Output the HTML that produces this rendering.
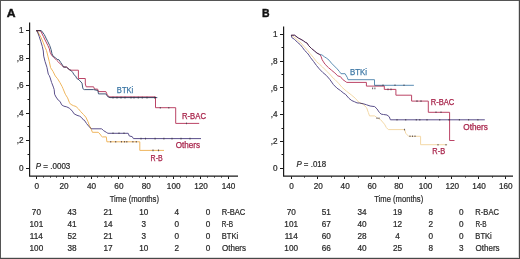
<!DOCTYPE html>
<html><head><meta charset="utf-8"><style>
html,body{margin:0;padding:0;background:#fff;}
body{width:520px;height:259px;overflow:hidden;}
svg{display:block;will-change:transform;}
</style></head><body>
<svg width="520" height="259" viewBox="0 0 520 259" font-family='"Liberation Sans", sans-serif'>
<rect x="0" y="0" width="520" height="259" fill="#fff"/>
<text x="6.75" y="16.90" font-size="11.2" fill="#111" textLength="8.83" lengthAdjust="spacingAndGlyphs" font-weight="bold" stroke="#111" stroke-width="0.4">A</text>
<path d="M29.6,22.4 V176.5 M29,176.1 H238" stroke="#1a1a1a" stroke-width="1.2" fill="none"/>
<path d="M26,168.5 H29 M27.5,154.5 H29 M26,140.5 H29 M27.5,126.5 H29 M26,113.5 H29 M27.5,99.5 H29 M26,85.5 H29 M27.5,71.5 H29 M26,58.5 H29 M27.5,44.5 H29 M26,30.5 H29 M36.5,176.4 V179 M43.5,176.4 V177.6 M50.5,176.4 V177.6 M56.5,176.4 V177.6 M63.5,176.4 V179 M70.5,176.4 V177.6 M77.5,176.4 V177.6 M84.5,176.4 V177.6 M91.5,176.4 V179 M97.5,176.4 V177.6 M104.5,176.4 V177.6 M111.5,176.4 V177.6 M118.5,176.4 V179 M125.5,176.4 V177.6 M132.5,176.4 V177.6 M139.5,176.4 V177.6 M145.5,176.4 V179 M152.5,176.4 V177.6 M159.5,176.4 V177.6 M166.5,176.4 V177.6 M173.5,176.4 V179 M180.5,176.4 V177.6 M186.5,176.4 V177.6 M193.5,176.4 V177.6 M200.5,176.4 V179 M207.5,176.4 V177.6 M214.5,176.4 V177.6 M221.5,176.4 V177.6 M228.5,176.4 V179" stroke="#1a1a1a" stroke-width="1" fill="none"/>
<text x="23.60" y="170.90" font-size="8.2" fill="#2a2a2a" text-anchor="end" stroke="#2a2a2a" stroke-width="0.22">0</text>
<text x="23.60" y="143.34" font-size="8.2" fill="#2a2a2a" text-anchor="end" stroke="#2a2a2a" stroke-width="0.22">,2</text>
<text x="23.60" y="115.78" font-size="8.2" fill="#2a2a2a" text-anchor="end" stroke="#2a2a2a" stroke-width="0.22">,4</text>
<text x="23.60" y="88.22" font-size="8.2" fill="#2a2a2a" text-anchor="end" stroke="#2a2a2a" stroke-width="0.22">,6</text>
<text x="23.60" y="60.66" font-size="8.2" fill="#2a2a2a" text-anchor="end" stroke="#2a2a2a" stroke-width="0.22">,8</text>
<text x="23.60" y="33.10" font-size="8.2" fill="#2a2a2a" text-anchor="end" stroke="#2a2a2a" stroke-width="0.22">1</text>
<text x="36.70" y="189.10" font-size="8.2" fill="#2a2a2a" text-anchor="middle" stroke="#2a2a2a" stroke-width="0.22">0</text>
<text x="64.10" y="189.10" font-size="8.2" fill="#2a2a2a" text-anchor="middle" stroke="#2a2a2a" stroke-width="0.22">20</text>
<text x="91.50" y="189.10" font-size="8.2" fill="#2a2a2a" text-anchor="middle" stroke="#2a2a2a" stroke-width="0.22">40</text>
<text x="118.90" y="189.10" font-size="8.2" fill="#2a2a2a" text-anchor="middle" stroke="#2a2a2a" stroke-width="0.22">60</text>
<text x="146.30" y="189.10" font-size="8.2" fill="#2a2a2a" text-anchor="middle" stroke="#2a2a2a" stroke-width="0.22">80</text>
<text x="173.70" y="189.10" font-size="8.2" fill="#2a2a2a" text-anchor="middle" stroke="#2a2a2a" stroke-width="0.22">100</text>
<text x="201.10" y="189.10" font-size="8.2" fill="#2a2a2a" text-anchor="middle" stroke="#2a2a2a" stroke-width="0.22">120</text>
<text x="228.50" y="189.10" font-size="8.2" fill="#2a2a2a" text-anchor="middle" stroke="#2a2a2a" stroke-width="0.22">140</text>
<path d="M36.3,30.7 H41.4 L44.2,34.4 L46,38.1 L47.9,41.8 L49.7,45.5 L51.1,49.6 L52,53.8 L53.4,56.6 L55.3,57.5 L57.1,59.4 L59,59.8 L60.8,62.6 L62.7,65.4 L63.5,67 L66.5,67.2 L69.3,69.6 L71,70.5 L73,72.8 L73.9,74.7 L75.7,76.1 L76.7,78.4 L79,79.8 L82,83.1 L82.9,88.7 L84.3,89.6 H93.6 L97.8,90.5 L98.5,93.9 H105.9 L107.7,96.7 L110,97.6 H157.3" stroke="#42597a" stroke-width="1.0" fill="none" style="mix-blend-mode:multiply"/>
<path d="M36.3,30.7 H40.5 L43.3,36.3 L45.1,40 L47.9,45.5 L49.3,48.7 L50.2,52.4 L51.6,55.2 L53.9,57.5 L56.7,60.3 L58.5,62.1 L60.4,64 L62.2,65.8 L63.5,67 H66.5 L69.3,69.6 L71,70.2 H78.4 V78.5 H85.3 V84 L86.2,86.8 H93.6 L94.5,89.1 H97.6 L98.5,91.6 H105.9 L107.3,94.8 L109.1,96.9 H155.5 V107.7 H175.7 V123.4 H199.2" stroke="#bb4466" stroke-width="1.0" fill="none" style="mix-blend-mode:multiply"/>
<path d="M36.3,30.7 L37.7,31.6 L40.9,37.2 L43.3,42.7 L45.1,47.4 L46.5,50.6 L47.9,56.1 L49.3,61.7 L50.6,67.7 L53,71.4 L55.3,76 L57.6,78.8 L59.9,82.5 L62.2,86.7 L63,88.6 L65.3,94.2 L67.6,97.9 L69.4,102.5 L70.5,104.2 L73.3,105.6 L76,106.5 L78.4,108.8 L80.7,111.6 L83.4,114.4 L85.8,117.1 L87.8,121.3 L89.5,125.9 L91.3,129.4 L92.4,132.3 H98.2 L100,134 L101.1,135.8 L102.3,136.9 H106.3 L106.9,141.8 H139.8 V150.4 H164" stroke="#efb65e" stroke-width="1.0" fill="none" style="mix-blend-mode:multiply"/>
<path d="M36.3,30.7 L37.2,31.2 L39.1,36.3 L40.9,41.8 L42.3,46.4 L43.3,51 L43.7,56.1 L45.1,61.7 L46.9,67.2 L48.3,74.2 L49.3,75.6 L50.2,77.9 L51.6,82.5 L53.4,87.1 L54.2,89.6 L54.6,94.2 L56,97 L58.3,100.2 L60.2,101.6 L61.6,104.8 L63.9,106.2 L66.8,106.9 L69.6,108.3 L72.3,111.1 L74.2,113.9 L77,115.3 L79.7,116.2 L81.6,117.6 L83.4,119.9 L84.3,120.1 L86.6,123.6 L89,126.5 L91.3,128.8 H101.7 L103.4,130.5 L106.3,132.3 L107.9,133.3 H128.2 L129.3,136 L132.2,136.6 L133.4,138.6 H201" stroke="#5a4f8a" stroke-width="1.0" fill="none" style="mix-blend-mode:multiply"/>
<path d="M113,96.80 v1.6 M117,96.80 v1.6 M121,96.80 v1.6 M125,96.80 v1.6 M131,96.80 v1.6 M134,96.80 v1.6 M138.3,96.80 v1.6 M142.3,96.80 v1.6 M147,96.80 v1.6 M154.5,96.80 v1.6" stroke="#3a3340" stroke-width="1.1" opacity="0.75" fill="none"/>
<path d="M160.3,106.90 v1.6 M168.8,106.90 v1.6" stroke="#3a3340" stroke-width="1.1" opacity="0.75" fill="none"/>
<path d="M186.5,122.60 v1.6" stroke="#3a3340" stroke-width="1.1" opacity="0.75" fill="none"/>
<path d="M113,132.50 v1.6 M119,132.50 v1.6 M124,132.50 v1.6" stroke="#3a3340" stroke-width="1.1" opacity="0.75" fill="none"/>
<path d="M141,137.80 v1.6 M145.5,137.80 v1.6 M155.1,137.80 v1.6 M163.9,137.80 v1.6 M172,137.80 v1.6 M181,137.80 v1.6 M190,137.80 v1.6" stroke="#3a3340" stroke-width="1.1" opacity="0.75" fill="none"/>
<path d="M110.7,141.00 v1.6 M115.7,141.00 v1.6 M121.5,141.00 v1.6 M124.5,141.00 v1.6 M126.8,141.00 v1.6 M132.9,141.00 v1.6 M136.3,141.00 v1.6" stroke="#3a3340" stroke-width="1.1" opacity="0.75" fill="none"/>
<path d="M153,149.60 v1.6 M158.5,149.60 v1.6" stroke="#3a3340" stroke-width="1.1" opacity="0.75" fill="none"/>
<text x="116.83" y="92.50" font-size="8.2" fill="#3e78a6" textLength="16.43" lengthAdjust="spacingAndGlyphs" stroke="#3e78a6" stroke-width="0.25">BTKi</text>
<text x="182.02" y="119.10" font-size="8.2" fill="#a8234a" textLength="23.92" lengthAdjust="spacingAndGlyphs" stroke="#a8234a" stroke-width="0.25">R-BAC</text>
<text x="175.67" y="148.00" font-size="8.2" fill="#a8234a" textLength="24.28" lengthAdjust="spacingAndGlyphs" stroke="#a8234a" stroke-width="0.25">Others</text>
<text x="150.57" y="160.60" font-size="8.2" fill="#a8234a" textLength="12.15" lengthAdjust="spacingAndGlyphs" stroke="#a8234a" stroke-width="0.25">R-B</text>
<text x="35.79" y="169.10" font-size="8.2" fill="#2a2a2a" textLength="34.51" lengthAdjust="spacingAndGlyphs" stroke="#2a2a2a" stroke-width="0.22"><tspan font-style="italic">P</tspan> = .0003</text>
<text x="109.68" y="202.00" font-size="9.2" fill="#2a2a2a" textLength="49.35" lengthAdjust="spacingAndGlyphs" stroke="#2a2a2a" stroke-width="0.22">Time (months)</text>
<text x="261.95" y="16.90" font-size="11.2" fill="#111" textLength="7.58" lengthAdjust="spacingAndGlyphs" font-weight="bold" stroke="#111" stroke-width="0.4">B</text>
<path d="M283.6,26.6 V176.5 M283,176.1 H513" stroke="#1a1a1a" stroke-width="1.2" fill="none"/>
<path d="M280,168.5 H283 M281.5,154.5 H283 M280,141.5 H283 M281.5,128.5 H283 M280,114.5 H283 M281.5,101.5 H283 M280,87.5 H283 M281.5,74.5 H283 M280,61.5 H283 M281.5,47.5 H283 M280,34.5 H283 M291.5,176.4 V179 M304.5,176.4 V177.6 M317.5,176.4 V179 M331.5,176.4 V177.6 M344.5,176.4 V179 M358.5,176.4 V177.6 M371.5,176.4 V179 M384.5,176.4 V177.6 M398.5,176.4 V179 M411.5,176.4 V177.6 M425.5,176.4 V179 M438.5,176.4 V177.6 M451.5,176.4 V179 M465.5,176.4 V177.6 M478.5,176.4 V179 M492.5,176.4 V177.6 M505.5,176.4 V179" stroke="#1a1a1a" stroke-width="1" fill="none"/>
<text x="277.60" y="170.90" font-size="8.2" fill="#2a2a2a" text-anchor="end" stroke="#2a2a2a" stroke-width="0.22">0</text>
<text x="277.60" y="144.10" font-size="8.2" fill="#2a2a2a" text-anchor="end" stroke="#2a2a2a" stroke-width="0.22">,2</text>
<text x="277.60" y="117.30" font-size="8.2" fill="#2a2a2a" text-anchor="end" stroke="#2a2a2a" stroke-width="0.22">,4</text>
<text x="277.60" y="90.50" font-size="8.2" fill="#2a2a2a" text-anchor="end" stroke="#2a2a2a" stroke-width="0.22">,6</text>
<text x="277.60" y="63.70" font-size="8.2" fill="#2a2a2a" text-anchor="end" stroke="#2a2a2a" stroke-width="0.22">,8</text>
<text x="277.60" y="36.90" font-size="8.2" fill="#2a2a2a" text-anchor="end" stroke="#2a2a2a" stroke-width="0.22">1</text>
<text x="291.60" y="189.10" font-size="8.2" fill="#2a2a2a" text-anchor="middle" stroke="#2a2a2a" stroke-width="0.22">0</text>
<text x="318.38" y="189.10" font-size="8.2" fill="#2a2a2a" text-anchor="middle" stroke="#2a2a2a" stroke-width="0.22">20</text>
<text x="345.16" y="189.10" font-size="8.2" fill="#2a2a2a" text-anchor="middle" stroke="#2a2a2a" stroke-width="0.22">40</text>
<text x="371.94" y="189.10" font-size="8.2" fill="#2a2a2a" text-anchor="middle" stroke="#2a2a2a" stroke-width="0.22">60</text>
<text x="398.72" y="189.10" font-size="8.2" fill="#2a2a2a" text-anchor="middle" stroke="#2a2a2a" stroke-width="0.22">80</text>
<text x="425.50" y="189.10" font-size="8.2" fill="#2a2a2a" text-anchor="middle" stroke="#2a2a2a" stroke-width="0.22">100</text>
<text x="452.28" y="189.10" font-size="8.2" fill="#2a2a2a" text-anchor="middle" stroke="#2a2a2a" stroke-width="0.22">120</text>
<text x="479.06" y="189.10" font-size="8.2" fill="#2a2a2a" text-anchor="middle" stroke="#2a2a2a" stroke-width="0.22">140</text>
<text x="505.84" y="189.10" font-size="8.2" fill="#2a2a2a" text-anchor="middle" stroke="#2a2a2a" stroke-width="0.22">160</text>
<path d="M291.3,35.2 H294.6 L298.3,38 L301,39.4 L303.4,40.8 L305.2,42.2 L307.1,43.1 L308.7,45.7 L311.5,48.5 L314.3,50.8 L317,53.1 L319.8,54.5 L322.1,55 L324.4,56.8 L326.2,57.9 L329.1,60.2 L331.4,63.1 L334.3,66 L337.2,68.9 L339.3,71.4 L341,73.7 H345.1 L347.4,77.7 L348,79.7 H374.5 V85.3 H413.9" stroke="#5b8db3" stroke-width="1.0" fill="none" style="mix-blend-mode:multiply"/>
<path d="M291.3,35.2 H294.6 L298.3,38 L301,39.4 L303.4,40.8 L305.2,42.2 L307.1,43.1 L308.7,45.7 L311.5,48.5 L314.3,50.8 L317,53.1 L319.8,54.5 L321.2,56.8 L322.1,59.6 L323.5,61.9 L325.1,64.3 L328.5,67.7 L331.4,70.1 L334.9,73 L337.8,75.9 L340.4,76.6 L342.7,79.5 L345.1,81.2 L346.8,82.4 H366.4 V86.1 H384.3 V89.4 H395.9 V95.2 H411.6 V101.1 H428.3 V112.3 H449.6 V140.5 H454.5" stroke="#bb4466" stroke-width="1.0" fill="none" style="mix-blend-mode:multiply"/>
<path d="M291.3,35.2 L295,37.8 L298,40.5 L301,43 L304,46.5 L307.4,50.2 L310.3,53.8 L313.2,57.2 L316.7,61.8 L319.5,64.2 L322.5,67 L327,71.5 L330.5,75 L333.2,78.2 L335,79.6 L338.5,83.2 L342,87.3 L346.6,91.3 L351.2,94.8 L355.3,98.3 L358.5,102 L363.1,104.3 L366.6,107.7 L368.3,112.4 L369.5,115.9 H374.7 L377.7,118.2 L380.5,119.6 L384.5,124.2 L386.3,127.5 L388.3,129.6 H404.7 L405.7,133.2 L408.6,136.3 H420.6 V144.7 H447.2" stroke="#f3d8a6" stroke-width="1.0" fill="none" style="mix-blend-mode:multiply"/>
<path d="M291.3,35.2 L291.8,37.6 L294.6,39.4 L297.3,42.2 L300.1,44.5 L302.4,47.3 L304.7,50.5 L307.1,52.8 L308.9,55.1 L310.6,57.7 L313.5,61.4 L316.4,65.4 L319.3,68.9 L322.7,72.4 L326.2,75.3 L329.7,79.3 L333.5,84.7 L337,88.2 L340.4,90.5 L343.9,93.4 L345.4,94.2 L348.9,98.3 L351.8,100.6 L354.7,101.8 L357,102.9 L359.6,103.1 L363.1,103.7 L366.6,104.8 L370.1,106 L374.7,106.6 L377,108.9 L379.3,112.4 L381.1,114.1 L383.5,114.5 L387,115 L389.3,116.8 L390.4,119.8 H484.8" stroke="#5a4f8a" stroke-width="1.0" fill="none" style="mix-blend-mode:multiply"/>
<path d="M397,119.00 v1.6 M405.7,119.00 v1.6 M416.3,119.00 v1.6 M419.8,119.00 v1.6 M427,119.00 v1.6 M439.7,119.00 v1.6 M449,119.00 v1.6 M459.4,119.00 v1.6 M468.6,119.00 v1.6 M477.9,119.00 v1.6" stroke="#3a3340" stroke-width="1.1" opacity="0.75" fill="none"/>
<path d="M438,143.90 v1.6 M446,143.90 v1.6" stroke="#3a3340" stroke-width="1.1" opacity="0.75" fill="none"/>
<path d="M410,135.50 v1.6 M412.5,135.50 v1.6 M415,135.50 v1.6" stroke="#3a3340" stroke-width="1.1" opacity="0.75" fill="none"/>
<path d="M404.5,128.80 v1.6" stroke="#3a3340" stroke-width="1.1" opacity="0.75" fill="none"/>
<path d="M377,117.50 v1.6 M379,117.50 v1.6" stroke="#3a3340" stroke-width="1.1" opacity="0.75" fill="none"/>
<path d="M383,84.50 v1.6 M395,84.50 v1.6 M404,84.50 v1.6" stroke="#3a3340" stroke-width="1.1" opacity="0.75" fill="none"/>
<path d="M372.6,87.60 v1.6 M374.9,87.60 v1.6" stroke="#3a3340" stroke-width="1.1" opacity="0.75" fill="none"/>
<path d="M388,88.60 v1.6 M391,88.60 v1.6" stroke="#3a3340" stroke-width="1.1" opacity="0.75" fill="none"/>
<path d="M417,100.30 v1.6 M421,100.30 v1.6" stroke="#3a3340" stroke-width="1.1" opacity="0.75" fill="none"/>
<path d="M436,111.50 v1.6 M441,111.50 v1.6" stroke="#3a3340" stroke-width="1.1" opacity="0.75" fill="none"/>
<text x="350.01" y="75.40" font-size="8.2" fill="#3e78a6" textLength="16.97" lengthAdjust="spacingAndGlyphs" stroke="#3e78a6" stroke-width="0.25">BTKi</text>
<text x="430.73" y="104.70" font-size="8.2" fill="#a8234a" textLength="23.61" lengthAdjust="spacingAndGlyphs" stroke="#a8234a" stroke-width="0.25">R-BAC</text>
<text x="463.36" y="130.00" font-size="8.2" fill="#a8234a" textLength="24.58" lengthAdjust="spacingAndGlyphs" stroke="#a8234a" stroke-width="0.25">Others</text>
<text x="432.34" y="153.90" font-size="8.2" fill="#a8234a" textLength="12.80" lengthAdjust="spacingAndGlyphs" stroke="#a8234a" stroke-width="0.25">R-B</text>
<text x="296.40" y="166.60" font-size="8.2" fill="#2a2a2a" textLength="29.69" lengthAdjust="spacingAndGlyphs" stroke="#2a2a2a" stroke-width="0.22"><tspan font-style="italic">P</tspan> = .018</text>
<text x="374.18" y="202.00" font-size="9.2" fill="#2a2a2a" textLength="49.04" lengthAdjust="spacingAndGlyphs" stroke="#2a2a2a" stroke-width="0.22">Time (months)</text>
<text x="36.40" y="214.80" font-size="8.2" fill="#2a2a2a" text-anchor="middle" stroke="#2a2a2a" stroke-width="0.22">70</text>
<text x="72.00" y="214.80" font-size="8.2" fill="#2a2a2a" text-anchor="middle" stroke="#2a2a2a" stroke-width="0.22">43</text>
<text x="108.00" y="214.80" font-size="8.2" fill="#2a2a2a" text-anchor="middle" stroke="#2a2a2a" stroke-width="0.22">21</text>
<text x="143.80" y="214.80" font-size="8.2" fill="#2a2a2a" text-anchor="middle" stroke="#2a2a2a" stroke-width="0.22">10</text>
<text x="176.70" y="214.80" font-size="8.2" fill="#2a2a2a" text-anchor="middle" stroke="#2a2a2a" stroke-width="0.22">4</text>
<text x="208.00" y="214.80" font-size="8.2" fill="#2a2a2a" text-anchor="middle" stroke="#2a2a2a" stroke-width="0.22">0</text>
<text x="221.73" y="214.80" font-size="8.2" fill="#2a2a2a" textLength="23.61" lengthAdjust="spacingAndGlyphs" stroke="#2a2a2a" stroke-width="0.22">R-BAC</text>
<text x="36.40" y="226.80" font-size="8.2" fill="#2a2a2a" text-anchor="middle" stroke="#2a2a2a" stroke-width="0.22">101</text>
<text x="72.00" y="226.80" font-size="8.2" fill="#2a2a2a" text-anchor="middle" stroke="#2a2a2a" stroke-width="0.22">41</text>
<text x="108.00" y="226.80" font-size="8.2" fill="#2a2a2a" text-anchor="middle" stroke="#2a2a2a" stroke-width="0.22">14</text>
<text x="143.80" y="226.80" font-size="8.2" fill="#2a2a2a" text-anchor="middle" stroke="#2a2a2a" stroke-width="0.22">3</text>
<text x="176.70" y="226.80" font-size="8.2" fill="#2a2a2a" text-anchor="middle" stroke="#2a2a2a" stroke-width="0.22">0</text>
<text x="208.00" y="226.80" font-size="8.2" fill="#2a2a2a" text-anchor="middle" stroke="#2a2a2a" stroke-width="0.22">0</text>
<text x="221.82" y="226.80" font-size="8.2" fill="#2a2a2a" textLength="11.17" lengthAdjust="spacingAndGlyphs" stroke="#2a2a2a" stroke-width="0.22">R-B</text>
<text x="36.40" y="238.70" font-size="8.2" fill="#2a2a2a" text-anchor="middle" stroke="#2a2a2a" stroke-width="0.22">114</text>
<text x="72.00" y="238.70" font-size="8.2" fill="#2a2a2a" text-anchor="middle" stroke="#2a2a2a" stroke-width="0.22">52</text>
<text x="108.00" y="238.70" font-size="8.2" fill="#2a2a2a" text-anchor="middle" stroke="#2a2a2a" stroke-width="0.22">21</text>
<text x="143.80" y="238.70" font-size="8.2" fill="#2a2a2a" text-anchor="middle" stroke="#2a2a2a" stroke-width="0.22">3</text>
<text x="176.70" y="238.70" font-size="8.2" fill="#2a2a2a" text-anchor="middle" stroke="#2a2a2a" stroke-width="0.22">0</text>
<text x="208.00" y="238.70" font-size="8.2" fill="#2a2a2a" text-anchor="middle" stroke="#2a2a2a" stroke-width="0.22">0</text>
<text x="221.73" y="238.70" font-size="8.2" fill="#2a2a2a" textLength="16.43" lengthAdjust="spacingAndGlyphs" stroke="#2a2a2a" stroke-width="0.22">BTKi</text>
<text x="36.40" y="250.50" font-size="8.2" fill="#2a2a2a" text-anchor="middle" stroke="#2a2a2a" stroke-width="0.22">100</text>
<text x="72.00" y="250.50" font-size="8.2" fill="#2a2a2a" text-anchor="middle" stroke="#2a2a2a" stroke-width="0.22">38</text>
<text x="108.00" y="250.50" font-size="8.2" fill="#2a2a2a" text-anchor="middle" stroke="#2a2a2a" stroke-width="0.22">17</text>
<text x="143.80" y="250.50" font-size="8.2" fill="#2a2a2a" text-anchor="middle" stroke="#2a2a2a" stroke-width="0.22">10</text>
<text x="176.70" y="250.50" font-size="8.2" fill="#2a2a2a" text-anchor="middle" stroke="#2a2a2a" stroke-width="0.22">2</text>
<text x="208.00" y="250.50" font-size="8.2" fill="#2a2a2a" text-anchor="middle" stroke="#2a2a2a" stroke-width="0.22">0</text>
<text x="221.97" y="250.50" font-size="8.2" fill="#2a2a2a" textLength="24.07" lengthAdjust="spacingAndGlyphs" stroke="#2a2a2a" stroke-width="0.22">Others</text>
<text x="291.20" y="214.80" font-size="8.2" fill="#2a2a2a" text-anchor="middle" stroke="#2a2a2a" stroke-width="0.22">70</text>
<text x="326.20" y="214.80" font-size="8.2" fill="#2a2a2a" text-anchor="middle" stroke="#2a2a2a" stroke-width="0.22">51</text>
<text x="362.10" y="214.80" font-size="8.2" fill="#2a2a2a" text-anchor="middle" stroke="#2a2a2a" stroke-width="0.22">34</text>
<text x="397.60" y="214.80" font-size="8.2" fill="#2a2a2a" text-anchor="middle" stroke="#2a2a2a" stroke-width="0.22">19</text>
<text x="430.90" y="214.80" font-size="8.2" fill="#2a2a2a" text-anchor="middle" stroke="#2a2a2a" stroke-width="0.22">8</text>
<text x="461.40" y="214.80" font-size="8.2" fill="#2a2a2a" text-anchor="middle" stroke="#2a2a2a" stroke-width="0.22">0</text>
<text x="475.33" y="214.80" font-size="8.2" fill="#2a2a2a" textLength="23.61" lengthAdjust="spacingAndGlyphs" stroke="#2a2a2a" stroke-width="0.22">R-BAC</text>
<text x="291.20" y="226.80" font-size="8.2" fill="#2a2a2a" text-anchor="middle" stroke="#2a2a2a" stroke-width="0.22">101</text>
<text x="326.20" y="226.80" font-size="8.2" fill="#2a2a2a" text-anchor="middle" stroke="#2a2a2a" stroke-width="0.22">67</text>
<text x="362.10" y="226.80" font-size="8.2" fill="#2a2a2a" text-anchor="middle" stroke="#2a2a2a" stroke-width="0.22">40</text>
<text x="397.60" y="226.80" font-size="8.2" fill="#2a2a2a" text-anchor="middle" stroke="#2a2a2a" stroke-width="0.22">12</text>
<text x="430.90" y="226.80" font-size="8.2" fill="#2a2a2a" text-anchor="middle" stroke="#2a2a2a" stroke-width="0.22">2</text>
<text x="461.40" y="226.80" font-size="8.2" fill="#2a2a2a" text-anchor="middle" stroke="#2a2a2a" stroke-width="0.22">0</text>
<text x="475.42" y="226.80" font-size="8.2" fill="#2a2a2a" textLength="11.17" lengthAdjust="spacingAndGlyphs" stroke="#2a2a2a" stroke-width="0.22">R-B</text>
<text x="291.20" y="238.70" font-size="8.2" fill="#2a2a2a" text-anchor="middle" stroke="#2a2a2a" stroke-width="0.22">114</text>
<text x="326.20" y="238.70" font-size="8.2" fill="#2a2a2a" text-anchor="middle" stroke="#2a2a2a" stroke-width="0.22">60</text>
<text x="362.10" y="238.70" font-size="8.2" fill="#2a2a2a" text-anchor="middle" stroke="#2a2a2a" stroke-width="0.22">28</text>
<text x="397.60" y="238.70" font-size="8.2" fill="#2a2a2a" text-anchor="middle" stroke="#2a2a2a" stroke-width="0.22">4</text>
<text x="430.90" y="238.70" font-size="8.2" fill="#2a2a2a" text-anchor="middle" stroke="#2a2a2a" stroke-width="0.22">0</text>
<text x="461.40" y="238.70" font-size="8.2" fill="#2a2a2a" text-anchor="middle" stroke="#2a2a2a" stroke-width="0.22">0</text>
<text x="475.33" y="238.70" font-size="8.2" fill="#2a2a2a" textLength="16.43" lengthAdjust="spacingAndGlyphs" stroke="#2a2a2a" stroke-width="0.22">BTKi</text>
<text x="291.20" y="250.50" font-size="8.2" fill="#2a2a2a" text-anchor="middle" stroke="#2a2a2a" stroke-width="0.22">100</text>
<text x="326.20" y="250.50" font-size="8.2" fill="#2a2a2a" text-anchor="middle" stroke="#2a2a2a" stroke-width="0.22">66</text>
<text x="362.10" y="250.50" font-size="8.2" fill="#2a2a2a" text-anchor="middle" stroke="#2a2a2a" stroke-width="0.22">40</text>
<text x="397.60" y="250.50" font-size="8.2" fill="#2a2a2a" text-anchor="middle" stroke="#2a2a2a" stroke-width="0.22">25</text>
<text x="430.90" y="250.50" font-size="8.2" fill="#2a2a2a" text-anchor="middle" stroke="#2a2a2a" stroke-width="0.22">8</text>
<text x="461.40" y="250.50" font-size="8.2" fill="#2a2a2a" text-anchor="middle" stroke="#2a2a2a" stroke-width="0.22">3</text>
<text x="475.57" y="250.50" font-size="8.2" fill="#2a2a2a" textLength="24.07" lengthAdjust="spacingAndGlyphs" stroke="#2a2a2a" stroke-width="0.22">Others</text>
<path d="M0.5,0 V259 M0,0.5 H520" stroke="#555" stroke-width="1" fill="none"/>
<path d="M518.5,1 V258 M1,257.5 H519" stroke="#dadada" stroke-width="1" fill="none"/>
<path d="M519.5,0 V259 M0,258.5 H520" stroke="#484848" stroke-width="1" fill="none"/>
</svg>
</body></html>
